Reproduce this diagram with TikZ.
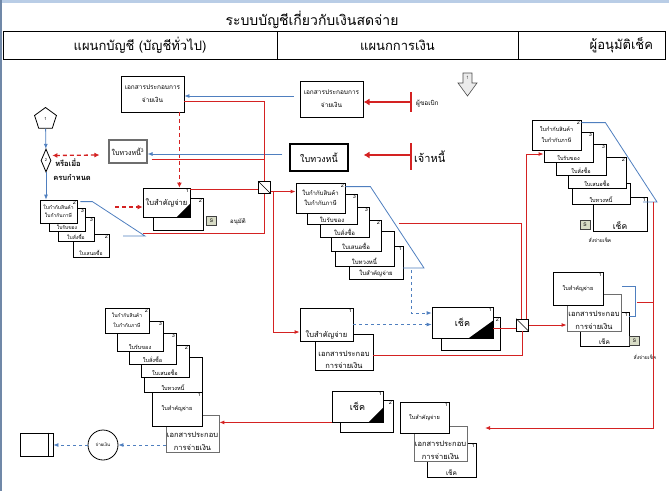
\documentclass[tikz,border=0pt]{standalone}
\usepackage{fontspec}
\setmainfont[Script=Thai]{Loma}
\usepackage{tikz}
\usetikzlibrary{arrows.meta, positioning, shapes.geometric, calc}

\definecolor{flowRed}{HTML}{D42222}
\definecolor{flowBlue}{HTML}{4F7FBF}
\definecolor{paperGray}{HTML}{6E6E6E}
\definecolor{stampFill}{HTML}{D8DCC6}
\definecolor{barBlue}{HTML}{B9CDE6}
\definecolor{edgeBlue}{HTML}{7088A8}

\newcommand{\fsz}[2]{\fontsize{#1}{#2}\selectfont}

\begin{document}
\begin{tikzpicture}[x=1pt, y=-1pt,
    doc/.style={draw, fill=white, line width=0.8pt, inner sep=1pt, align=center, font=\fsz{6}{7.5}},
    gdoc/.style={doc, draw=paperGray},
    numtag/.style={anchor=north east, inner sep=1.2pt, font=\fsz{5.5}{5.5}},
    bottomtxt/.style={anchor=south, inner sep=2pt, align=center, font=\fsz{5.5}{7}},
    cell/.style={draw, line width=0.8pt, minimum height=28pt, inner sep=0, font=\fsz{13}{13}},
    stamp/.style={draw=black!75, fill=stampFill, minimum width=10pt, minimum height=9pt, inner sep=0, font=\fsz{5}{5}},
    merge/.style={draw, fill=white, minimum size=12pt, inner sep=0, line width=0.7pt},
    note/.style={inner sep=0, font=\fsz{6}{6}},
    rline/.style={flowRed, line width=0.9pt},
    rarr/.style={rline, -{Latex[length=5pt, width=4pt]}},
    rdash/.style={flowRed, line width=1.3pt, dash pattern=on 4pt off 3pt},
    rdasharr/.style={rdash, -{Latex[length=5pt, width=5pt]}},
    rdashboth/.style={rdash, {Latex[length=5pt, width=5pt]}-{Latex[length=5pt, width=5pt]}},
    rbig/.style={flowRed, line width=2.4pt, -{Latex[length=6pt, width=7pt]}},
    rbar/.style={flowRed, line width=1.4pt},
    bline/.style={flowBlue, line width=0.8pt},
    barr/.style={bline, -{Latex[length=5pt, width=4pt]}},
    bdash/.style={bline, dashed, -{Latex[length=5pt, width=4pt]}}
]
\useasboundingbox (0,0) rectangle (669,491);
\fill[barBlue] (0,0) rectangle (669,3);
\fill[edgeBlue] (0,0) rectangle (2,491);

% Title and lanes
\node[font=\fsz{14}{14}] (title) at (312,20) {ระบบบัญชีเกี่ยวกับเงินสดจ่าย};
\node[cell, minimum width=274pt] (lane1) at (140,45) {แผนกบัญชี (บัญชีทั่วไป)};
\node[cell, minimum width=241pt] (lane2) at (397.5,45) {แผนกการเงิน};
\node[cell, minimum width=147pt, text width=123pt, align=right] (lane3) at (591.5,45) {ผู้อนุมัติเช็ค};

% Start and due date
\node[regular polygon, regular polygon sides=5, draw, line width=0.8pt, minimum size=23pt, inner sep=0, font=\fsz{4}{4}] (start) at (45.5,119) {1};
\node[diamond, draw, line width=0.8pt, minimum width=10pt, minimum height=23pt, inner sep=0, font=\fsz{4}{4}] (due) at (46,160.5) {2};
\node[note, font=\bfseries\fsz{7.5}{7.5}] (dueA) at (68,162.5) {หรือเมื่อ};
\node[note, font=\bfseries\fsz{7.5}{7.5}] (dueB) at (72,177.5) {ครบกำหนด};

% Accounting: support documents and dunning letter
\node[doc, minimum width=63pt, minimum height=36pt, font=\fsz{6.5}{13}] (sup0) at (152.5,94) {เอกสารประกอบการ\\จ่ายเงิน};
\node[gdoc, line width=1.1pt, minimum width=38pt, minimum height=23pt, font=\fsz{7}{7}] (dun0) at (128,151.5) {ใบทวงหนี้\textsuperscript{3}};

% Accounting: vendor document stack
\node[doc, minimum width=36pt, minimum height=23pt, label={[numtag]north east:2}, label={[bottomtxt, font=\fsz{5}{6}]south:ใบเสนอซื้อ}] (L4) at (91,245.5) {};
\node[doc, minimum width=36pt, minimum height=24pt, label={[numtag]north east:3}, label={[bottomtxt, font=\fsz{5}{6}]south:ใบสั่งซื้อ}] (L3) at (76,229) {};
\node[doc, minimum width=36pt, minimum height=23pt, label={[numtag]north east:3}, label={[bottomtxt, font=\fsz{5}{6}]south:ใบรับของ}] (L2) at (67,219.5) {};
\node[doc, minimum width=37pt, minimum height=23pt, font=\fsz{5}{8.5}, label={[numtag]north east:2}] (L1) at (58.5,211.5) {ใบกำกับสินค้า\\ใบกำกับภาษี};

% Accounting: voucher
\node[doc, minimum width=50pt, minimum height=32pt, label={[numtag]north east:2}] (vou2) at (178,214) {};
\node[doc, minimum width=47pt, minimum height=29pt, font=\fsz{7.5}{7.5}, label={[numtag]north east:1}] (vou1) at (166.5,202.5) {ใบสำคัญจ่าย};
\fill (vou1.south east) -- ++(-14,0) -- ++(14,-14) -- cycle;
\node[stamp] (okS) at (211.5,221) {S};
\node[note] (okT) at (238,222) {อนุมัติ};

% Accounting: paid file
\node[doc, minimum width=53pt, minimum height=37pt, draw=paperGray, label={[bottomtxt, font=\fsz{7.5}{13}]south:{เอกสารประกอบ\\การจ่ายเงิน}}] (B7) at (192.5,433.5) {};
\node[doc, minimum width=50pt, minimum height=34pt, font=\fsz{5.5}{5.5}, label={[numtag]north east:1}] (B6) at (177,409) {ใบสำคัญจ่าย};
\node[doc, minimum width=58pt, minimum height=35pt, label={[bottomtxt]south:ใบทวงหนี้}] (B5) at (173,374.5) {};
\node[doc, minimum width=48pt, minimum height=32pt, label={[numtag]north east:2}, label={[bottomtxt]south:ใบเสนอซื้อ}] (B4) at (165,361) {};
\node[doc, minimum width=47pt, minimum height=31pt, label={[numtag]north east:3}, label={[bottomtxt]south:ใบสั่งซื้อ}] (B3) at (152.5,348.5) {};
\node[doc, minimum width=46pt, minimum height=30pt, label={[numtag]north east:3}, label={[bottomtxt]south:ใบรับของ}] (B2) at (140,336) {};
\node[doc, minimum width=44pt, minimum height=25pt, font=\fsz{5}{10}, label={[numtag]north east:2}] (B1) at (127,320.5) {ใบกำกับสินค้า\\ใบกำกับภาษี};
\node[circle, draw, line width=0.8pt, minimum size=30pt, inner sep=0, font=\fsz{4.5}{4.5}] (pay) at (103,445) {จ่ายเงิน};
\node[draw, line width=0.8pt, minimum width=33pt, minimum height=23pt, inner sep=0] (file) at (36.5,444.5) {};
\draw[line width=0.8pt] ([xshift=-5pt]file.north east) -- ([xshift=-5pt]file.south east);

% Finance: incoming requests
\node[doc, line width=1pt, minimum width=63pt, minimum height=36pt, font=\fsz{6.5}{13}] (sup1) at (331.5,99) {เอกสารประกอบการ\\จ่ายเงิน};
\node[doc, line width=1.2pt, minimum width=58pt, minimum height=27pt, font=\fsz{9}{9}] (dun1) at (319,157.5) {ใบทวงหนี้};
\coordinate (reqBar) at (411,102);
\coordinate (credBar) at (411,155);
\node[note, anchor=west, font=\fsz{6.5}{6.5}] (req) at (416,104) {ผู้ขอเบิก};
\node[note, anchor=west, font=\fsz{11}{11}] (cred) at (414,157) {เจ้าหนี้};

% Off-page connector
\coordinate (pg1c) at (467.5,78);
\draw[draw=black!70, fill=black!8, line width=0.6pt] ($(pg1c)+(-4.5,-5)$) -- ++(9,0) -- ++(0,10) -- ++(5,0) -- ++(-9.5,13) -- ++(-9.5,-13) -- ++(5,0) -- cycle;
\node[inner sep=0, font=\fsz{4.5}{4.5}, black!70] (pg1) at (pg1c) {1};

% Finance: document stack
\node[doc, minimum width=54pt, minimum height=33pt, label={[numtag]north east:1}, label={[bottomtxt, font=\fsz{6}{6}]south:ใบสำคัญจ่าย}] (C6) at (376,262.5) {};
\node[doc, minimum width=59pt, minimum height=35pt, label={[bottomtxt, font=\fsz{6}{6}]south:ใบทวงหนี้}] (C5) at (364.5,248.5) {};
\node[doc, minimum width=50pt, minimum height=31pt, label={[numtag]north east:2}, label={[bottomtxt, font=\fsz{6}{6}]south:ใบเสนอซื้อ}] (C4) at (356,235.5) {};
\node[doc, minimum width=49pt, minimum height=30pt, label={[numtag]north east:3}, label={[bottomtxt, font=\fsz{6}{6}]south:ใบสั่งซื้อ}] (C3) at (344.5,222) {};
\node[doc, minimum width=50pt, minimum height=30pt, label={[numtag]north east:3}, label={[bottomtxt, font=\fsz{6}{6}]south:ใบรับของ}] (C2) at (332,209) {};
\node[doc, minimum width=49pt, minimum height=30pt, font=\fsz{6}{10}, label={[numtag]north east:2}] (C1) at (320.5,198) {ใบกำกับสินค้า\\ใบกำกับภาษี};

% Finance: voucher and cheque
\node[doc, minimum width=58pt, minimum height=36pt, label={[bottomtxt, font=\fsz{7.5}{12}]south:{เอกสารประกอบ\\การจ่ายเงิน}}] (sup2) at (344,352) {};
\node[doc, minimum width=53pt, minimum height=33pt, label={[numtag]north east:1}, label={[bottomtxt, font=\fsz{7.5}{7.5}]south:ใบสำคัญจ่าย}] (vou3) at (326.5,324.5) {};
\node[doc, minimum width=59pt, minimum height=33pt, label={[numtag]north east:2}] (chq2) at (470.5,333.5) {};
\node[doc, minimum width=61pt, minimum height=31pt, font=\fsz{9}{9}, label={[numtag]north east:1}] (chq1) at (462.5,322.5) {เช็ค};
\fill (chq1.south east) -- ++(-25,0) -- ++(25,-18) -- cycle;
\node[doc, minimum width=53pt, minimum height=32pt, label={[numtag]north east:2}] (chq4) at (366.5,416) {};
\node[doc, minimum width=51pt, minimum height=31pt, font=\fsz{9}{9}, label={[numtag]north east:1}] (chq3) at (357.5,406.5) {เช็ค};
\fill (chq3.south east) -- ++(-15,0) -- ++(15,-15) -- cycle;

% Finance: outgoing stack
\node[doc, minimum width=49pt, minimum height=34pt, label={[numtag]north east:1}, label={[bottomtxt, font=\fsz{6.5}{6.5}]south:เช็ค}] (T3) at (451.5,460) {};
\node[gdoc, minimum width=53pt, minimum height=35pt, label={[bottomtxt, font=\fsz{7.5}{13}]south:{เอกสารประกอบ\\การจ่ายเงิน}}] (T2) at (440.5,443.5) {};
\node[doc, minimum width=49pt, minimum height=31pt, font=\fsz{5.5}{5.5}, label={[numtag]north east:1}] (T1) at (424.5,417.5) {ใบสำคัญจ่าย};

% Approver: document stack
\node[doc, minimum width=54pt, minimum height=34pt, label={[numtag]north east:1}, label={[bottomtxt, font=\fsz{8.5}{8.5}]south:เช็ค}] (R6) at (620,214) {};
\node[doc, minimum width=58pt, minimum height=21pt, label={[bottomtxt]south:ใบทวงหนี้}] (R5) at (601,193.5) {};
\node[doc, minimum width=58pt, minimum height=31pt, label={[numtag]north east:2}, label={[bottomtxt]south:ใบเสนอซื้อ}] (R4) at (597,172.5) {};
\node[doc, minimum width=50pt, minimum height=31pt, label={[numtag]north east:3}, label={[bottomtxt]south:ใบสั่งซื้อ}] (R3) at (581,159.5) {};
\node[doc, minimum width=49pt, minimum height=30pt, label={[numtag]north east:3}, label={[bottomtxt]south:ใบรับของ}] (R2) at (568.5,147) {};
\node[doc, minimum width=49pt, minimum height=30pt, font=\fsz{5.5}{11}, label={[numtag]north east:2}] (R1) at (556.5,135) {ใบกำกับสินค้า\\ใบกำกับภาษี};
\node[stamp] (signS1) at (585,224.5) {S};
\node[note, font=\fsz{5}{5}] (signT1) at (600,240) {สั่งจ่ายเช็ค};

% Approver: signed cheque
\node[doc, minimum width=49pt, minimum height=34pt, label={[numtag]north east:1}, label={[bottomtxt, font=\fsz{6.5}{6.5}]south:เช็ค}] (S3) at (604.5,329) {};
\node[gdoc, minimum width=54pt, minimum height=37pt, label={[bottomtxt, font=\fsz{7.5}{13}]south:{เอกสารประกอบ\\การจ่ายเงิน}}] (S2) at (594,312.5) {};
\node[doc, minimum width=50pt, minimum height=33pt, font=\fsz{5.5}{5.5}, label={[numtag]north east:1}] (S1) at (578,288.5) {ใบสำคัญจ่าย};
\node[stamp] (signS2) at (634.5,340.5) {S};
\node[note, font=\fsz{5}{5}] (signT2) at (645,357) {สั่งจ่ายเช็ค};

% Merge points
\node[merge] (m1) at (264.5,187.5) {};
\draw[line width=0.7pt] (m1.north west) -- (m1.south east);
\node[merge] (m2) at (522.5,325) {};
\draw[line width=0.7pt] (m2.north west) -- (m2.south east);

% File brackets
\coordinate (Lb) at (145,236);
\coordinate (Cb) at (424,268);
\coordinate (Rb) at (657,202);
\draw[bline] ($(L1.north east)+(3,2)$) -- ++(12,0) -- (Lb) -- ++(-22,0);
\draw[bline] ($(C1.north east)+(0,4)$) -- ++(25,0) -- (Cb) -- ++(-21,0);
\draw[bline] ($(R1.north east)+(0,3)$) -- ++(24,0) -- (Rb) -- ++(-14,0);
\draw[bline] ($(S2.north east)+(1,-7)$) -- ++(13,0) -- ++(0,30) -- ++(-6,0);

% Arrows: accounting
\draw[barr] (start) -- (due);
\draw[barr] (due.south) -- (due.south |- L1.north);
\draw[rdashboth] ($(dun0.west)+(-9,3.5)$) -- ($(due.east)+(1,-5)$);
\coordinate (vIn) at (115,207);
\draw[rdasharr] (vIn) -- (vIn -| vou1.west);
\draw[rdasharr] ([xshift=-5pt]sup0.south east) -- ([xshift=-11pt]vou1.north east);
\draw[bdash] (pay.east -| B7.west) -- (pay.east);
\draw[bdash] (pay.west) -- (pay.west -| file.east);

% Arrows: finance
\coordinate (bA) at ($(sup1.west)+(-6,-3)$);
\draw[barr] (bA) -- (bA -| sup0.east);
\coordinate (bD) at ($(dun1.west)+(-7,-3.5)$);
\draw[barr] (bD) -- (bD -| dun0.east);
\draw[rbar] ($(reqBar)+(0,-10)$) -- ($(reqBar)+(0,10)$);
\draw[rbig] (reqBar) -- (reqBar -| sup1.east);
\draw[rbar] ($(credBar)+(0,-12)$) -- ($(credBar)+(0,15)$);
\draw[rbig] (credBar) -- (credBar -| sup1.east);
\draw[rline] ($(sup0.east)+(0,7)$) -| (m1.north);
\coordinate (rD) at ($(dun0.east)+(4,7.5)$);
\draw[rline] (rD) -- (rD -| m1.north);
\coordinate (rV1) at ($(vou1.north east)+(0,2)$);
\draw[rline] (rV1) -- (rV1 -| m1.west);
\coordinate (Lr) at ($(Lb)+(-2,-3)$);
\draw[rline] (Lr) -| (m1.south);
\coordinate (rM) at ($(m1.east)+(0,4)$);
\draw[rarr] (rM) -- (rM -| C1.west);
\coordinate (rV) at ($(vou3.west)+(0,7.5)$);
\draw[rarr] ($(rM)+(2.5,0)$) |- (rV);
\draw[bdash] ($(Cb)+(-13,2)$) |- ($(chq1.west)+(0,-9.5)$);
\draw[bdash] (vou3.east) -- (vou3.east -| chq1.west);
\coordinate (rC) at (399,223);
\draw[rline] (rC) -| ($(m2.north)+(-1.5,0)$);
\coordinate (rR) at ($(R2.west)+(0,7)$);
\draw[rarr] ($(m2.north)+(3.5,0)$) |- (rR);
\coordinate (rK) at ($(chq1.east)+(0,5.5)$);
\draw[rline] (rK) -- (rK -| m2.west);
\draw[rline] ($(sup2.east)+(0,3)$) -| (m2.south);
\draw[rarr] (m2.east) -- (m2.east -| S2.west);
\draw[rarr] (chq3.south west) -- (chq3.south west -| B7.east);

% Arrows: approver
\coordinate (rRight) at ($(Rb)+(-4,0)$);
\coordinate (rT) at (485,428);
\draw[rarr] (rRight) |- (rT);
\coordinate (Sm) at (637,302);
\draw[rline] (Sm) -- (Sm -| rRight);

\end{tikzpicture}
\end{document}
